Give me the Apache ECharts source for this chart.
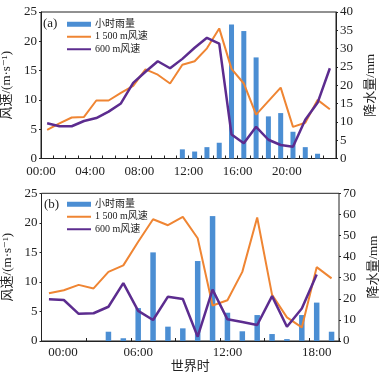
<!DOCTYPE html>
<html>
<head>
<meta charset="utf-8">
<script src="https://cdn.jsdelivr.net/npm/echarts@6/dist/echarts.min.js"></script>
<style>
html, body { margin: 0; padding: 0; background: #fff; }
#main { width: 389px; height: 377px; }
</style>
</head>
<body>
<div id="main"></div>
<script>
// panel (a): hourly values, hour of day
var hourA = [0,1,2,3,4,5,6,7,8,9,10,11,12,13,14,15,16,17,18,19,20,21,22,23];
var rainA = [0,0,0,0,0,0,0,0,0,0,0,2.5,1.9,3.1,4.3,36.6,34.8,27.6,11.5,12.4,7.3,3.1,1.3,0];
var wind1500A = [4.9,6.0,7.0,7.1,9.9,9.9,11.2,12.4,15.2,14.3,12.8,16.0,16.6,18.8,22.2,15.3,12.8,7.5,9.8,12.1,5.4,6.1,10.0,8.4];
var wind600A = [6.0,5.5,5.5,6.4,6.9,8.0,9.4,12.9,14.8,16.6,15.4,17.0,18.9,20.6,19.6,4.1,2.6,5.4,3.2,2.3,2.0,6.6,9.5,15.4];

// panel (b)
var hourB = ['00:00','01:00','02:00','03:00','04:00','05:00','06:00','07:00','08:00','09:00',
             '10:00','11:00','12:00','13:00','14:00','15:00','16:00','17:00','18:00','19:00'];
var rainB = [null,null,null,null,4.4,1.3,15.6,42.0,6.8,6.0,37.9,59.2,13.4,4.6,12.3,3.3,0.9,12.3,18.2,4.4];
var wind1500B = [8.1,8.6,9.5,8.9,11.7,12.8,16.8,20.6,19.6,21.0,17.4,6.0,6.9,11.7,20.9,7.8,4.0,2.3,12.5,10.6];
var wind600B = [7.05,6.94,4.6,4.7,5.8,9.8,5.1,3.55,7.5,7.1,0.73,8.7,3.67,3.2,2.7,7.6,2.4,5.5,11.25,null];

var names = ['小时雨量', '1 500 m风速', '600 m风速'];

var serif = '"Liberation Serif", "DejaVu Serif", "Noto Sans CJK SC", serif';
var cBar = '#4B8ED3', cOrange = '#EF8533', cPurple = '#5C2C8F';
var txt = '#222';
// thin bar drawn as the legend mark of a line series
var lineIcon = 'path://M0,0h12v1h-12z';

function pad(h) { return (h < 10 ? '0' : '') + h + ':00'; }
function pair(hours, vals) {
    return vals.map(function (v, i) { return [hours[i] + 0.5, v]; });
}

var myChart = echarts.init(document.getElementById('main'));

var yLabel = { color: txt, fontSize: 13, fontFamily: serif, margin: 4 };
var yName = { color: txt, fontSize: 13, fontFamily: serif };
var axLine = { lineStyle: { color: '#222', width: 1 } };

function legend(top) {
    return {
        orient: 'vertical', left: 67, top: top, itemWidth: 24, itemHeight: 5, itemGap: 0,
        padding: 0, itemStyle: { borderWidth: 0 },
        textStyle: { fontSize: 10, lineHeight: 12.5, color: txt, fontFamily: serif, padding: [0, 0, 0, -1] },
        data: [
            { name: names[0], icon: 'rect' },
            { name: names[1], icon: lineIcon, itemStyle: { color: cOrange } },
            { name: names[2], icon: lineIcon, itemStyle: { color: cPurple } }
        ]
    };
}

var option = {
    animation: false,
    title: [
        { text: '(a)', left: 43, top: 17, padding: 0, textStyle: { fontSize: 13, fontWeight: 'normal', color: txt, fontFamily: serif } },
        { text: '(b)', left: 44, top: 198, padding: 0, textStyle: { fontSize: 13, fontWeight: 'normal', color: txt, fontFamily: serif } }
    ],
    legend: [legend(18), legend(198)],
    grid: [
        { left: 41, top: 12, width: 295, height: 146.5, show: true, borderColor: '#222', borderWidth: 1, outerBoundsMode: 'none' },
        { left: 41.5, top: 193.3, width: 297.5, height: 147.7, show: true, borderColor: '#222', borderWidth: 1, outerBoundsMode: 'none' }
    ],
    xAxis: [
        {
            type: 'value', gridIndex: 0, min: 0, max: 24, interval: 4,
            axisLine: axLine,
            axisTick: { show: true, inside: true, length: 3, lineStyle: { color: '#222' } },
            minorTick: { show: true, splitNumber: 4, length: 3, lineStyle: { color: '#222' } },
            splitLine: { show: false },
            axisLabel: {
                color: txt, fontSize: 13, fontFamily: serif, margin: 7, showMaxLabel: false,
                formatter: function (v) { return v >= 24 ? '' : pad(v); }
            }
        },
        {
            type: 'category', gridIndex: 1, data: hourB, boundaryGap: true,
            axisLine: axLine,
            axisTick: { show: true, inside: true, length: 3, interval: 2, lineStyle: { color: '#222' } },
            axisLabel: {
                color: txt, fontSize: 13, fontFamily: serif, margin: 5, interval: 5,
                formatter: function (v, i) { return i === 0 ? '{s|' + v + '}' : v; },
                rich: { s: { fontSize: 13, fontFamily: serif, color: txt, padding: [0, 0, 0, 28] } }
            },
            name: '世界时', nameLocation: 'middle', nameGap: 18,
            nameTextStyle: { color: txt, fontSize: 13, fontFamily: serif }
        }
    ],
    yAxis: [
        {
            type: 'value', gridIndex: 0, min: 0, max: 25, interval: 5,
            name: '风速/(m·s⁻¹)', nameLocation: 'middle', nameGap: 22, nameTextStyle: yName,
            axisLine: axLine, axisTick: { show: true, length: 2, lineStyle: { color: '#222' } },
            splitLine: { show: false }, axisLabel: yLabel
        },
        {
            type: 'value', gridIndex: 0, min: 0, max: 40, interval: 5, position: 'right',
            name: '降水量/mm', nameLocation: 'middle', nameGap: 25, nameTextStyle: yName,
            axisLine: axLine, axisTick: { show: true, length: 2, lineStyle: { color: '#222' } },
            splitLine: { show: false }, axisLabel: yLabel
        },
        {
            type: 'value', gridIndex: 1, min: 0, max: 25, interval: 5,
            name: '风速/(m·s⁻¹)', nameLocation: 'middle', nameGap: 22, nameTextStyle: yName,
            axisLine: axLine, axisTick: { show: true, length: 2, lineStyle: { color: '#222' } },
            splitLine: { show: false }, axisLabel: yLabel
        },
        {
            type: 'value', gridIndex: 1, min: 0, max: 70, interval: 10, position: 'right',
            name: '降水量/mm', nameLocation: 'middle', nameGap: 21, nameTextStyle: yName,
            axisLine: axLine, axisTick: { show: true, length: 2, lineStyle: { color: '#222' } },
            splitLine: { show: false }, axisLabel: yLabel
        }
    ],
    series: [
        { name: names[0], type: 'bar', xAxisIndex: 0, yAxisIndex: 1, barWidth: 5,
          itemStyle: { color: cBar }, data: pair(hourA, rainA) },
        { name: names[1], type: 'line', xAxisIndex: 0, yAxisIndex: 0, symbol: 'none', z: 3,
          lineStyle: { color: cOrange, width: 2 }, itemStyle: { color: cOrange }, data: pair(hourA, wind1500A) },
        { name: names[2], type: 'line', xAxisIndex: 0, yAxisIndex: 0, symbol: 'none', z: 4,
          lineStyle: { color: cPurple, width: 2.5 }, itemStyle: { color: cPurple }, data: pair(hourA, wind600A) },

        { name: names[0], type: 'bar', xAxisIndex: 1, yAxisIndex: 3, barWidth: 5.5,
          itemStyle: { color: cBar }, data: rainB },
        { name: names[1], type: 'line', xAxisIndex: 1, yAxisIndex: 2, symbol: 'none', z: 3,
          lineStyle: { color: cOrange, width: 2 }, itemStyle: { color: cOrange }, data: wind1500B },
        { name: names[2], type: 'line', xAxisIndex: 1, yAxisIndex: 2, symbol: 'none', z: 4,
          lineStyle: { color: cPurple, width: 2.5 }, itemStyle: { color: cPurple }, data: wind600B }
    ]
};

myChart.setOption(option);
</script>
</body>
</html>
